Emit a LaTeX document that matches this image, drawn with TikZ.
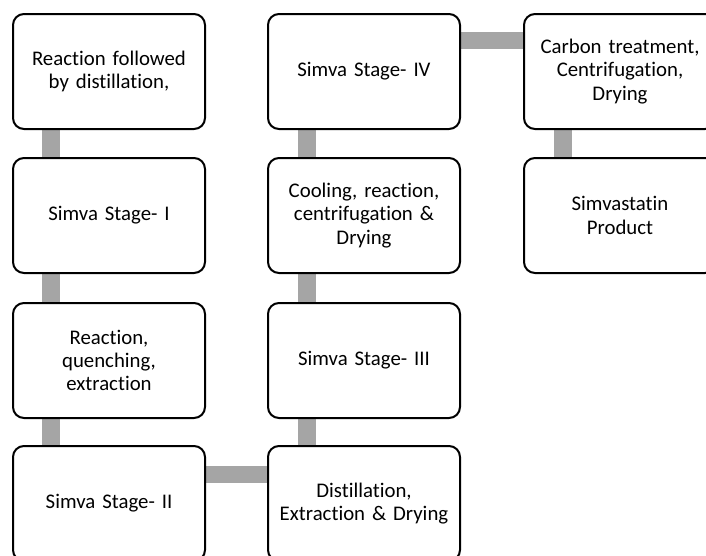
\documentclass[tikz,border=0pt]{standalone}
\usepackage{fontspec}
\setmainfont[Ligatures=NoCommon]{Carlito}
\usetikzlibrary{backgrounds}
\begin{document}
\begin{tikzpicture}[x=1pt,y=-1pt,
  stepbox/.style={draw=black, line width=2pt, fill=white, rounded corners=11pt,
    minimum width=192pt, minimum height=115pt, text width=186pt, align=center,
    inner sep=0pt, anchor=north west,
    font=\fontsize{20.8}{23.4}\selectfont},
  link/.style={draw=linkgray, line width=17.5pt}]
\definecolor{linkgray}{HTML}{A5A5A5}
\useasboundingbox (0,0) rectangle (706,555);
\clip (0,0) rectangle (706,555);
\node[stepbox] (a1) at (12,13) {Reaction followed\\by distillation,};
\node[stepbox] (a2) at (12,157) {Simva Stage- I};
\node[stepbox] (a3) at (12,302) {Reaction,\\quenching,\\extraction};
\node[stepbox] (a4) at (12,445) {Simva Stage- II};
\node[stepbox] (b4) at (267,445) {Distillation,\\Extraction \& Drying};
\node[stepbox] (b3) at (267,302) {Simva Stage- III};
\node[stepbox] (b2) at (267,157) {Cooling, reaction,\\centrifugation \&\\Drying};
\node[stepbox] (b1) at (267,13) {Simva Stage- IV};
\node[stepbox] (c1) at (523,13) {Carbon treatment,\\Centrifugation,\\Drying};
\node[stepbox] (c2) at (523,157) {Simvastatin\\Product};
\begin{pgfonlayer}{background}
\draw[link] ([xshift=39pt]a1.south west) -- ([xshift=39pt]a2.north west);
\draw[link] ([xshift=39pt]a2.south west) -- ([xshift=39pt]a3.north west);
\draw[link] ([xshift=39pt]a3.south west) -- ([xshift=39pt]a4.north west);
\draw[link] ([yshift=-29.5pt]a4.north east) -- ([yshift=-29.5pt]b4.north west);
\draw[link] ([xshift=40pt]b4.north west) -- ([xshift=40pt]b3.south west);
\draw[link] ([xshift=40pt]b3.north west) -- ([xshift=40pt]b2.south west);
\draw[link] ([xshift=40pt]b2.north west) -- ([xshift=40pt]b1.south west);
\draw[link] ([yshift=-27.5pt]b1.north east) -- ([yshift=-27.5pt]c1.north west);
\draw[link] ([xshift=40pt]c1.south west) -- ([xshift=40pt]c2.north west);
\end{pgfonlayer}
\end{tikzpicture}
\end{document}
